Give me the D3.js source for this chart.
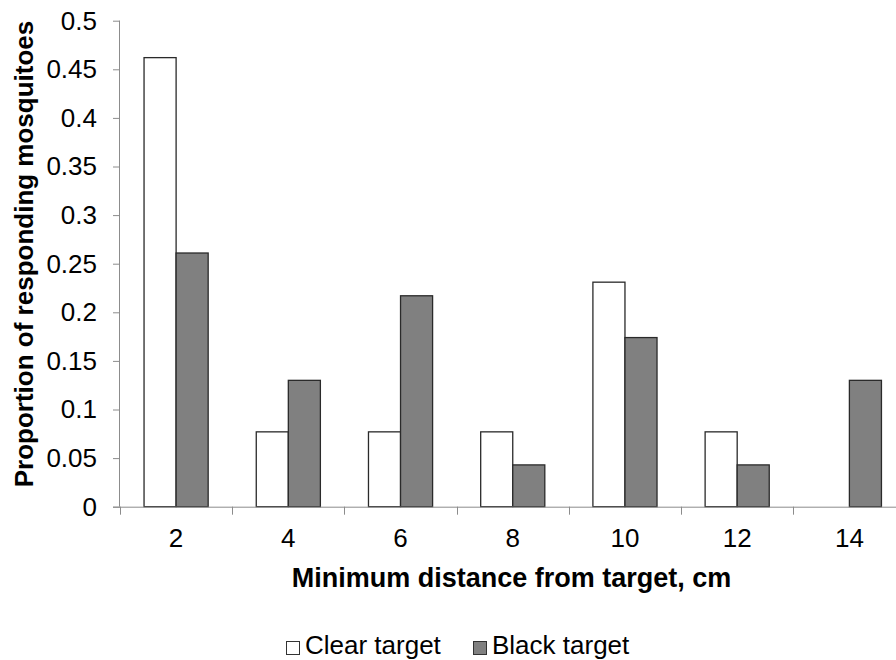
<!DOCTYPE html>
<html>
<head>
<meta charset="utf-8">
<script src="https://cdn.jsdelivr.net/npm/d3@7"></script>
<style>
  html, body { margin: 0; padding: 0; background: #fff; }
  svg { display: block; font-family: "Liberation Sans", Arial, sans-serif; }
</style>
</head>
<body>
<svg id="chart" width="896" height="660"></svg>
<script>
const categories = ["2", "4", "6", "8", "10", "12", "14"];
const clearTarget = [0.462, 0.077, 0.077, 0.077, 0.231, 0.077, 0];
const blackTarget = [0.261, 0.130, 0.217, 0.043, 0.174, 0.043, 0.130];
const seriesNames = ["Clear target", "Black target"];
const yTickValues = [0, 0.05, 0.1, 0.15, 0.2, 0.25, 0.3, 0.35, 0.4, 0.45, 0.5];
const yTickLabels = ["0", "0.05", "0.1", "0.15", "0.2", "0.25", "0.3", "0.35", "0.4", "0.45", "0.5"];
const xTitle = "Minimum distance from target, cm";
const yTitle = "Proportion of responding mosquitoes";

const svg = d3.select("#chart");
const plotLeft = 120, plotRight = 905.5, plotTop = 20.7, plotBottom = 506.7;
const axisColor = "#8c8c8c";
const fontSize = 26;

const x = d3.scaleBand().domain(categories).range([plotLeft, plotRight])
  .paddingInner(0.4286).paddingOuter(0.2143);
const xInner = d3.scaleBand().domain(seriesNames).range([0, x.bandwidth()]);
const y = d3.scaleLinear().domain([0, 0.5]).range([plotBottom, plotTop]);

const series = [
  { name: seriesNames[0], values: clearTarget, fill: "#ffffff" },
  { name: seriesNames[1], values: blackTarget, fill: "#808080" }
];

// bars
const g = svg.append("g");
series.forEach(s => {
  g.selectAll(null).data(categories).enter().append("rect")
    .attr("x", c => x(c) + xInner(s.name))
    .attr("y", (c, i) => y(s.values[i]))
    .attr("width", xInner.bandwidth())
    .attr("height", (c, i) => y(0) - y(s.values[i]))
    .attr("fill", s.fill)
    .attr("stroke", (c, i) => s.values[i] > 0 ? "#2a2a2a" : "none")
    .attr("stroke-width", 1.3);
});

// y axis
const yAxis = svg.append("g").attr("transform", `translate(${plotLeft},0)`)
  .call(d3.axisLeft(y).tickValues(yTickValues)
    .tickFormat((d, i) => yTickLabels[i]).tickSize(7).tickPadding(16));
yAxis.select(".domain").attr("stroke", axisColor).attr("d", `M-0.5,${plotTop}V${plotBottom}`);
yAxis.selectAll(".tick line").attr("stroke", axisColor);
yAxis.selectAll(".tick text").attr("font-size", fontSize).attr("fill", "#000")
  .attr("font-family", "Liberation Sans, Arial, sans-serif");

// x axis (labels)
const xAxis = svg.append("g").attr("transform", `translate(0,${plotBottom})`)
  .call(d3.axisBottom(x).tickSize(0).tickPadding(22));
xAxis.select(".domain").attr("stroke", axisColor).attr("d", `M${plotLeft - 7},0.5H${plotRight}`);
xAxis.selectAll(".tick text").attr("font-size", fontSize).attr("fill", "#000")
  .attr("font-family", "Liberation Sans, Arial, sans-serif");
// category boundary ticks
const bounds = categories.map(c => x(c) - x.step() * x.paddingInner() / 2);
bounds.push(plotRight);
xAxis.selectAll(".bound").data(bounds).enter().append("line")
  .attr("x1", d => Math.round(d) + 0.5).attr("x2", d => Math.round(d) + 0.5)
  .attr("y1", 0).attr("y2", 8).attr("stroke", axisColor);

// titles
svg.append("text").attr("x", 511.5).attr("y", 587)
  .attr("text-anchor", "middle").attr("font-size", 27).attr("font-weight", "bold")
  .text(xTitle);
svg.append("text").attr("transform", `translate(33,${254}) rotate(-90)`)
  .attr("text-anchor", "middle").attr("font-size", fontSize).attr("font-weight", "bold")
  .text(yTitle);

// legend
const legend = svg.append("g");
const legendItems = [
  { name: seriesNames[0], fill: "#ffffff", sx: 286, tx: 305 },
  { name: seriesNames[1], fill: "#808080", sx: 473, tx: 492 }
];
legendItems.forEach(it => {
  legend.append("rect").attr("x", it.sx + 0.5).attr("y", 641.5).attr("width", 13).attr("height", 13)
    .attr("fill", it.fill).attr("stroke", "#333").attr("stroke-width", 1);
  legend.append("text").attr("x", it.tx).attr("y", 654).attr("font-size", fontSize)
    .text(it.name);
});
</script>
</body>
</html>
